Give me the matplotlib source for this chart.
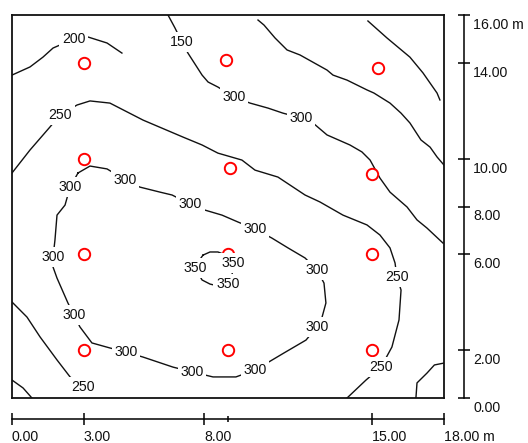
import numpy as np
import matplotlib
matplotlib.use('Agg')
import matplotlib.pyplot as plt
from matplotlib import transforms as mtransforms

plt.rcParams['font.family'] = ['Liberation Sans', 'DejaVu Sans']

# ---- sample points (red circles) ----
well_x = [3, 3, 3, 3, 8.9, 9.1, 9.0, 9.0, 15.25, 15.0, 15.0, 15.0]
well_y = [14, 10, 6, 2, 14.1, 9.6, 6.0, 2.0, 13.8, 9.35, 6.0, 2.0]

# ---- contour lines (data units) ----
c200_x = [0, 0.75, 1.29, 1.71, 2.58, 3.17, 3.96, 4.58]
c200_y = [13.49, 13.83, 14.24, 14.62, 15.0, 15.08, 14.83, 14.41]

c250_x = [0, 0.75, 1.58, 2.0, 2.71, 3.25, 4.08, 5.46, 7.125, 7.92, 8.58, 9.58,
          10.125, 11.08, 12.21, 12.83, 13.79, 14.79, 15.33, 15.75, 15.96, 16.04,
          16.21, 16.125, 15.83, 15.375, 14.75, 13.96]
c250_y = [9.40, 10.36, 11.32, 11.82, 12.24, 12.41, 12.32, 11.61, 10.90, 10.57,
          10.23, 9.94, 9.52, 9.23, 8.48, 8.19, 7.64, 7.23, 6.81, 6.27, 5.64, 5.05,
          4.51, 3.26, 2.13, 1.29, 0.75, 0.0]

ctop_x = [6.5, 6.79, 7.08, 7.33, 7.92, 8.17, 8.58, 9.25, 9.92, 10.67, 11.29,
          12.04, 12.54, 13.125, 14.08, 14.58, 14.92, 15.33, 15.75, 16.46, 16.875,
          17.29, 17.96]
ctop_y = [16.0, 15.46, 14.87, 14.41, 13.49, 13.20, 12.99, 12.57, 12.32, 12.11,
          11.90, 11.70, 11.49, 10.99, 10.57, 10.28, 9.94, 9.19, 8.60, 7.98, 7.44,
          7.10, 6.47]

cne_x = [10.25, 10.5, 10.96, 11.46, 12.0, 13.125, 13.375, 13.96, 14.79, 15.08,
         15.75, 16.21, 16.58, 17.04, 17.42, 17.71, 18.0]
cne_y = [15.79, 15.58, 15.04, 14.54, 14.33, 13.70, 13.49, 13.28, 12.87, 12.74,
         12.32, 11.90, 11.49, 10.78, 10.48, 10.07, 9.73]

ccorner_x = [14.83, 15.625, 16.58, 17.125, 17.71, 17.83]
ccorner_y = [15.75, 15.04, 14.24, 13.58, 12.74, 12.45]

c300_x = [2.75, 3.25, 3.96, 4.71, 5.33, 6.17, 6.67, 7.42, 8.04, 8.75, 9.42,
          10.125, 10.83, 11.5, 12.21, 12.71, 13.0, 13.08, 12.92, 12.71, 12.25,
          11.33, 10.625, 10.125, 9.33, 8.375, 7.5, 6.71, 5.46, 4.75, 4.08, 3.33,
          2.83, 2.58, 2.33, 1.875, 1.71, 1.71, 1.79, 1.875, 2.21, 2.42, 2.75]
c300_y = [9.40, 9.69, 9.57, 9.11, 8.81, 8.60, 8.48, 8.10, 7.85, 7.64, 7.35,
          7.06, 6.68, 6.27, 5.85, 5.35, 4.80, 3.97, 3.38, 2.97, 2.42, 1.88, 1.46,
          1.17, 0.88, 0.88, 1.09, 1.29, 1.71, 1.92, 2.09, 2.30, 2.97, 3.47, 3.97,
          5.01, 5.47, 5.89, 6.60, 7.64, 8.06, 8.81, 9.40]

c350_x = [7.96, 8.25, 8.58, 8.92, 9.21, 9.17, 9.0, 8.58, 8.25, 7.92, 7.625, 7.75, 7.96]
c350_y = [5.97, 6.10, 6.10, 5.97, 5.64, 5.14, 4.76, 4.68, 4.76, 4.93, 5.43, 5.68, 5.97]

cse_x = [16.83, 16.875, 17.29, 17.6, 18.0]
cse_y = [0.0, 0.63, 1.04, 1.38, 1.46]

csw_x = [0, 0.46, 0.83]
csw_y = [0.75, 0.42, 0.0]

c250b_x = [0, 0.625, 1.17, 1.875, 2.42, 2.96]
c250b_y = [4.01, 3.38, 2.55, 1.59, 0.88, 0.46]

contour_lines = [(c200_x, c200_y), (c250_x, c250_y), (ctop_x, ctop_y),
                 (cne_x, cne_y), (ccorner_x, ccorner_y), (c300_x, c300_y),
                 (c350_x, c350_y), (cse_x, cse_y), (csw_x, csw_y),
                 (c250b_x, c250b_y)]

# ---- contour labels ----
label_text = ['200', '250', '250', '250', '250',
              '150', '300', '300',
              '300', '300', '300', '300', '300', '300', '300', '300', '300', '300', '300',
              '350', '350', '350']
label_x = [2.58, 2.0, 16.04, 15.375, 2.96,
           7.08, 9.25, 12.04,
           4.71, 7.42, 10.125, 12.71, 12.71, 10.125, 7.5, 4.75, 2.58, 1.71, 2.42,
           9.21, 9.0, 7.625]
label_y = [15.0, 11.82, 5.05, 1.29, 0.46,
           14.87, 12.57, 11.70,
           9.11, 8.10, 7.06, 5.35, 2.97, 1.17, 1.09, 1.92, 3.47, 5.89, 8.81,
           5.64, 4.76, 5.43]

# ---- axis ticks ----
x_ticks = [0, 3, 8, 15, 18]
x_tick_labels = ['0.00', '3.00', '8.00', '15.00', '18.00 m']
x_minor = [9]
y_ticks = [0, 2, 6, 8, 10, 14, 16]
y_tick_labels = ['0.00', '2.00', '6.00', '8.00', '10.00', '14.00', '16.00 m']

W, H = 528, 443
fig = plt.figure(figsize=(W / 100, H / 100), dpi=100)
fig.patch.set_facecolor('white')

ax = fig.add_axes([12 / W, 1 - 398 / H, 432 / W, 383 / H])
ax.set_xlim(0, 18)
ax.set_ylim(0, 16)
ax.set_xticks([])
ax.set_yticks([])
for s in ax.spines.values():
    s.set_linewidth(1.3)
    s.set_color('#111111')

for cx, cy in contour_lines:
    ax.plot(cx, cy, color='#111111', lw=1.0, solid_joinstyle='round', zorder=2)

ax.plot(well_x, well_y, 'o', ms=8.2, mfc='white', mec='#ff0000', mew=1.4,
        zorder=3, clip_on=False)

for t, lx, ly in zip(label_text, label_x, label_y):
    ax.text(lx, ly, t, ha='center', va='center', fontsize=10.2, color='#111111',
            bbox=dict(boxstyle='square,pad=0.2', fc='white', ec='none'),
            zorder=4, clip_on=False)

# bottom axis
axb = fig.add_axes([12 / W, 1 - 419 / H, 432 / W, 1e-6])
axb.set_xlim(0, 18)
axb.set_yticks([])
for k in ['top', 'left', 'right']:
    axb.spines[k].set_visible(False)
axb.spines['bottom'].set_linewidth(1.1)
axb.patch.set_alpha(0)
axb.set_xticks(x_ticks)
axb.set_xticklabels([])
axb.set_xticks(x_minor, minor=True)
axb.tick_params(axis='x', which='major', direction='inout', length=9, width=1.1)
axb.tick_params(axis='x', which='minor', direction='inout', length=5, width=1.1)
tb = mtransforms.offset_copy(
    mtransforms.blended_transform_factory(axb.transData, axb.transAxes),
    fig=fig, x=0, y=-22, units='dots')
for xv, lab in zip(x_ticks, x_tick_labels):
    axb.text(xv, 0, lab, transform=tb, ha='left', va='baseline', fontsize=10.2,
             color='#111111')

# right axis
axr = fig.add_axes([464 / W, 1 - 398 / H, 1e-6, 383 / H])
axr.set_ylim(0, 16)
axr.set_xticks([])
for k in ['top', 'bottom', 'right']:
    axr.spines[k].set_visible(False)
axr.spines['left'].set_linewidth(1.1)
axr.patch.set_alpha(0)
axr.set_yticks(y_ticks)
axr.set_yticklabels([])
axr.tick_params(axis='y', direction='inout', length=8, width=1.1)
tr = mtransforms.offset_copy(
    mtransforms.blended_transform_factory(axr.transAxes, axr.transData),
    fig=fig, x=9, y=-14, units='dots')
for yv, lab in zip(y_ticks, y_tick_labels):
    axr.text(0, yv, lab, transform=tr, ha='left', va='baseline', fontsize=10.2,
             color='#111111')

fig.savefig('out.png', dpi=100)
